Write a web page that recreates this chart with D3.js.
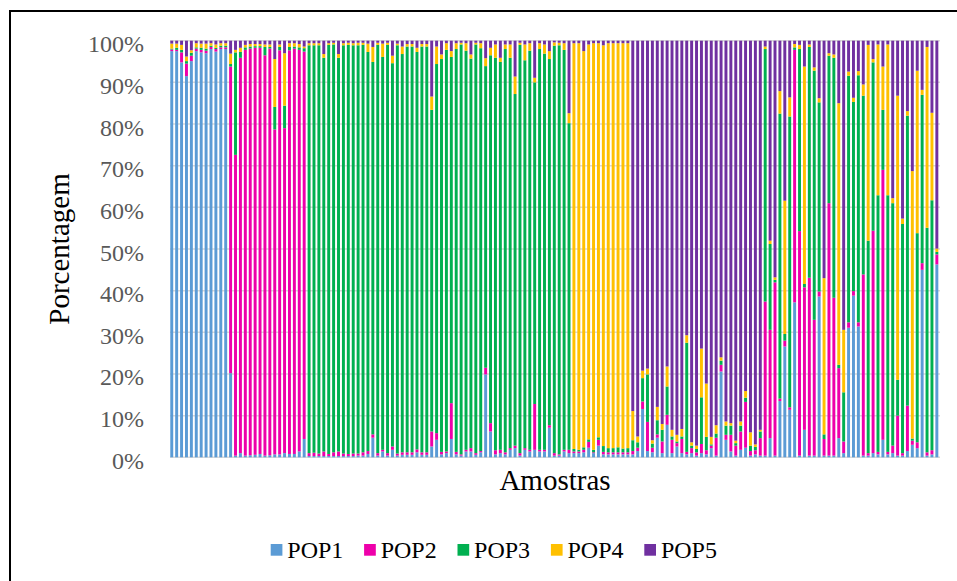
<!DOCTYPE html>
<html>
<head>
<meta charset="utf-8">
<script src="https://cdn.jsdelivr.net/npm/d3@7"></script>
<style>
  html, body { margin: 0; padding: 0; background: #fff; }
  svg { display: block; }
  svg text { font-family: "Liberation Serif", "Times New Roman", Times, "DejaVu Serif", serif; }
</style>
</head>
<body>
<svg width="957" height="581"></svg>
<script>
const width = 957
const height = 581

const keys = ["POP1", "POP2", "POP3", "POP4", "POP5"]
const colors = ["#5b9bd5", "#ee00aa", "#00b050", "#ffc000", "#7030a0"]

const yTicks = [0, 0.1, 0.2, 0.3, 0.4, 0.5, 0.6, 0.7, 0.8, 0.9, 1]

// valores, por amostra (%)
const pop1 = [97.5,97.5,94.8,91.5,95.1,97.5,97.2,97.0,98.0,97.4,98.0,98.0,20.2,0.4,1.0,0.4,0.5,0.6,0.8,0.4,
  0.5,0.7,0.7,1.0,0.8,0.8,1.4,4.4,0.3,0.3,0.3,0.3,0.3,0.3,0.3,0.3,0.3,0.3,0.4,0.4,
  0.8,4.7,0.4,1.4,0.4,1.8,0.4,0.6,0.6,0.6,1.2,0.6,0.6,2.6,4.2,0.7,1.0,4.4,0.7,0.4,
  1.4,1.4,0.6,1.2,19.9,6.2,0.7,1.0,0.7,1.8,2.2,0.4,1.8,1.4,1.8,1.4,1.4,7.1,0.4,0.4,
  1.4,1.0,1.0,1.0,1.2,2.3,1.0,2.8,0.7,0.7,0.7,0.7,0.7,0.7,0.7,1.5,11.6,1.5,1.2,4.7,
  1.0,7.8,1.0,2.6,1.0,0.7,1.0,0.4,1.0,0.7,2.2,0.4,20.6,4.2,1.4,0.4,1.8,2.3,0.4,0.7,
  0.4,0.4,4.6,0.4,13.5,26.6,11.4,37.2,0.4,6.6,0.4,0.4,38.6,0.4,0.4,0.4,4.6,1.0,31.1,38.8,
  31.4,0.4,0.4,1.0,0.7,4.2,0.7,1.0,0.4,0.4,1.5,3.0,2.2,45.0,0.4,0.7,46.3]
const pop2 = [0.4,0.3,2.4,3.0,1.3,0.6,0.6,0.6,0.5,0.6,0.4,0.4,73.6,72.2,94.9,97.4,97.6,97.7,97.5,96.1,
  97.6,78.0,97.0,78.0,96.9,97.3,96.4,93.0,0.7,0.8,0.6,1.1,0.5,0.9,1.1,0.6,0.5,0.6,0.5,0.8,
  0.7,0.8,0.6,0.4,0.6,0.8,0.5,0.6,0.6,0.6,0.7,0.6,0.6,3.6,1.6,0.6,0.4,8.6,0.6,0.3,
  0.4,0.8,0.4,0.3,1.6,2.0,1.0,0.8,0.5,0.4,0.6,0.6,0.4,0.4,11.0,0.4,0.4,0.6,0.6,0.3,
  0.4,0.8,0.4,0.4,0.6,1.4,0.2,1.4,0.6,0.5,0.5,0.5,0.5,0.5,0.8,0.8,1.8,7.0,1.1,0.8,
  2.8,2.4,3.2,0.8,3.4,0.6,1.2,0.8,2.2,1.0,0.6,4.3,1.6,1.2,4.0,2.4,4.4,11.0,1.1,1.0,
  4.2,37.0,26.0,41.6,0.6,1.4,0.6,60.6,53.9,34.2,42.7,32.6,1.2,4.0,60.6,37.9,16.8,2.8,1.3,1.1,
  1.0,43.5,0.6,53.4,0.6,64.8,0.6,1.8,9.6,0.6,10.9,1.0,1.4,1.6,0.8,1.0,2.4]
const pop3 = [0.2,0.5,0.6,0.6,0.7,0.3,0.5,0.5,0.3,0.3,0.4,0.4,0.6,24.6,1.4,0.6,0.5,0.4,0.4,2.0,
  0.4,5.4,0.8,5.4,0.8,0.5,0.6,0.8,97.9,97.8,98.0,94.5,98.2,97.9,94.5,98.0,98.2,98.0,98.0,97.8,
  95.8,89.4,98.0,94.3,98.0,92.0,98.0,95.6,97.4,97.4,95.4,97.4,97.4,77.2,88.6,94.3,96.4,83.1,96.7,98.4,
  95.8,93.5,98.1,96.7,72.4,88.3,94.2,93.1,96.8,93.7,84.4,98.0,93.1,95.8,77.2,96.2,95.1,87.9,97.8,98.2,
  96.0,78.4,0.6,0.4,0.6,0.6,0.6,0.6,1.4,1.0,1.0,1.2,0.9,1.0,2.6,1.3,5.6,11.4,1.0,3.4,
  2.8,6.8,0.8,0.4,0.6,26.2,0.6,0.8,11.2,3.2,0.3,1.0,1.0,2.2,2.2,0.6,1.4,1.0,1.3,0.8,
  1.6,60.6,20.6,0.6,68.4,1.6,69.8,0.6,43.7,0.8,55.4,59.8,45.4,1.1,35.4,57.6,0.8,11.8,59.2,45.4,
  59.3,42.9,51.0,40.4,61.6,14.4,61.6,58.2,8.6,55.0,69.6,0.5,50.2,40.4,53.9,60.0,0.6]
const pop4 = [1.2,1.0,1.2,1.1,0.6,1.0,1.0,1.2,0.6,0.8,0.6,0.6,2.5,0.6,1.0,0.6,0.6,0.5,0.5,0.6,
  0.6,11.5,0.6,12.6,0.9,0.8,0.8,0.4,0.5,0.5,0.5,0.9,0.4,0.4,0.9,0.5,0.5,0.5,0.6,0.5,
  2.0,3.6,0.5,3.2,0.5,1.8,0.4,1.8,0.6,0.6,1.0,0.6,0.6,3.2,4.2,1.1,1.6,1.4,1.4,0.4,
  1.8,1.0,0.4,1.2,1.9,1.8,3.2,1.0,1.1,3.2,4.2,0.5,3.8,1.8,1.1,1.4,2.2,1.9,0.8,0.6,
  1.6,2.4,97.4,97.6,95.1,94.8,97.6,94.6,96.2,97.2,97.2,97.0,97.3,97.2,7.0,1.4,1.8,1.4,0.8,3.2,
  1.4,4.8,1.6,1.6,1.8,1.8,0.8,0.8,11.7,12.8,1.8,2.0,0.8,1.0,0.6,0.6,1.0,1.6,3.2,0.6,
  0.4,0.6,0.8,0.6,5.4,32.0,4.6,0.8,1.0,52.2,0.6,0.8,1.0,37.5,0.6,0.8,62.8,15.0,1.0,1.0,
  1.0,2.7,47.0,0.8,36.2,10.4,36.2,1.2,68.2,1.3,1.1,64.2,39.0,1.2,43.4,21.0,0.8]
const pop5 = [0.7,0.7,1.0,3.8,2.3,0.6,0.7,0.7,0.6,0.9,0.6,0.6,3.1,2.2,1.7,1.0,0.8,0.8,0.8,0.9,
  0.9,4.4,0.9,3.0,0.6,0.6,0.8,1.4,0.6,0.6,0.6,3.2,0.6,0.5,3.2,0.6,0.5,0.6,0.5,0.5,
  0.7,1.5,0.5,0.7,0.5,3.6,0.7,1.4,0.8,0.8,1.7,0.8,0.8,13.4,1.4,3.3,0.6,2.5,0.6,0.5,
  0.6,3.3,0.5,0.6,4.2,1.7,0.9,4.1,0.9,0.9,8.6,0.5,0.9,0.6,8.9,0.6,0.9,2.5,0.4,0.5,
  0.6,17.4,0.6,0.6,2.5,0.9,0.6,0.6,1.1,0.6,0.6,0.6,0.6,0.6,88.9,95.0,79.2,78.7,95.9,87.9,
  92.0,78.2,93.4,94.6,93.2,70.7,96.4,97.2,73.9,82.3,95.1,92.3,76.0,91.4,91.8,96.0,91.4,84.1,94.0,96.9,
  93.4,1.4,48.0,56.8,12.1,38.4,13.6,0.8,1.0,6.2,0.9,6.4,13.8,57.0,3.0,3.3,15.0,69.4,7.4,13.7,
  7.3,10.5,1.0,4.4,0.9,6.2,0.9,37.8,13.2,42.7,16.9,31.3,7.2,11.8,1.5,17.3,49.9]

const series = [pop1, pop2, pop3, pop4, pop5]
const samples = d3.range(1, pop1.length + 1)

const table = samples.map((s, i) => {
  const row = {amostra: s}
  keys.forEach((k, j) => row[k] = series[j][i])
  return row
})

const stacked = d3.stack()
    .keys(keys)
    .offset(d3.stackOffsetExpand)(table)

const x = d3.scaleBand()
    .domain(samples)
    .range([169.3, 939.3])
    .paddingInner(0.4)
    .paddingOuter(0.2)

const y = d3.scaleLinear()
    .domain([0, 1])
    .range([457.3, 40.7])

const color = d3.scaleOrdinal().domain(keys).range(colors)

const svg = d3.select("svg")

svg.append("rect")
    .attr("width", width)
    .attr("height", height)
    .attr("fill", "#fff")

// moldura
svg.append("rect")
    .attr("x", 10)
    .attr("y", 11)
    .attr("width", width + 20)
    .attr("height", height + 20)
    .attr("fill", "none")
    .attr("stroke", "#000")
    .attr("stroke-width", 2)

// grade
svg.append("g")
    .attr("stroke", "#d9d9d9")
    .attr("stroke-width", 1.5)
    .selectAll("line")
    .data(yTicks)
    .join("line")
    .attr("x1", 170)
    .attr("x2", 940)
    .attr("y1", d => y(d))
    .attr("y2", d => y(d))

svg.append("g")
    .selectAll("g")
    .data(stacked)
    .join("g")
    .attr("fill", d => color(d.key))
    .selectAll("rect")
    .data(d => d)
    .join("rect")
    .attr("x", d => x(d.data.amostra))
    .attr("width", x.bandwidth())
    .attr("y", d => y(d[1]))
    .attr("height", d => y(d[0]) - y(d[1]))

// eixo y
const yAxis = svg.append("g")
    .attr("transform", "translate(144,0)")
    .call(d3.axisLeft(y).tickValues(yTicks).tickFormat(d3.format(".0%")).tickSize(0).tickPadding(0))

yAxis.select(".domain").remove()
yAxis.attr("font-family", null)
yAxis.selectAll("text")
    .attr("font-size", 24)
    .attr("fill", "#595959")
    .attr("dy", null)
    .attr("y", 11)

svg.append("text")
    .attr("transform", "translate(69,249) rotate(-90)")
    .attr("text-anchor", "middle")
    .attr("font-size", 29)
    .text("Porcentagem")

svg.append("text")
    .attr("x", 555)
    .attr("y", 490)
    .attr("text-anchor", "middle")
    .attr("font-size", 29)
    .text("Amostras")

// legenda
const legend = svg.append("g")
    .selectAll("g")
    .data(keys)
    .join("g")
    .attr("transform", (d, i) => `translate(${270.7 + i * 93.4},544)`)

legend.append("rect")
    .attr("width", 11.7)
    .attr("height", 11.7)
    .attr("fill", d => color(d))

legend.append("text")
    .attr("x", 16.6)
    .attr("y", 14)
    .attr("font-size", 24)
    .text(d => d)
</script>
</body>
</html>
